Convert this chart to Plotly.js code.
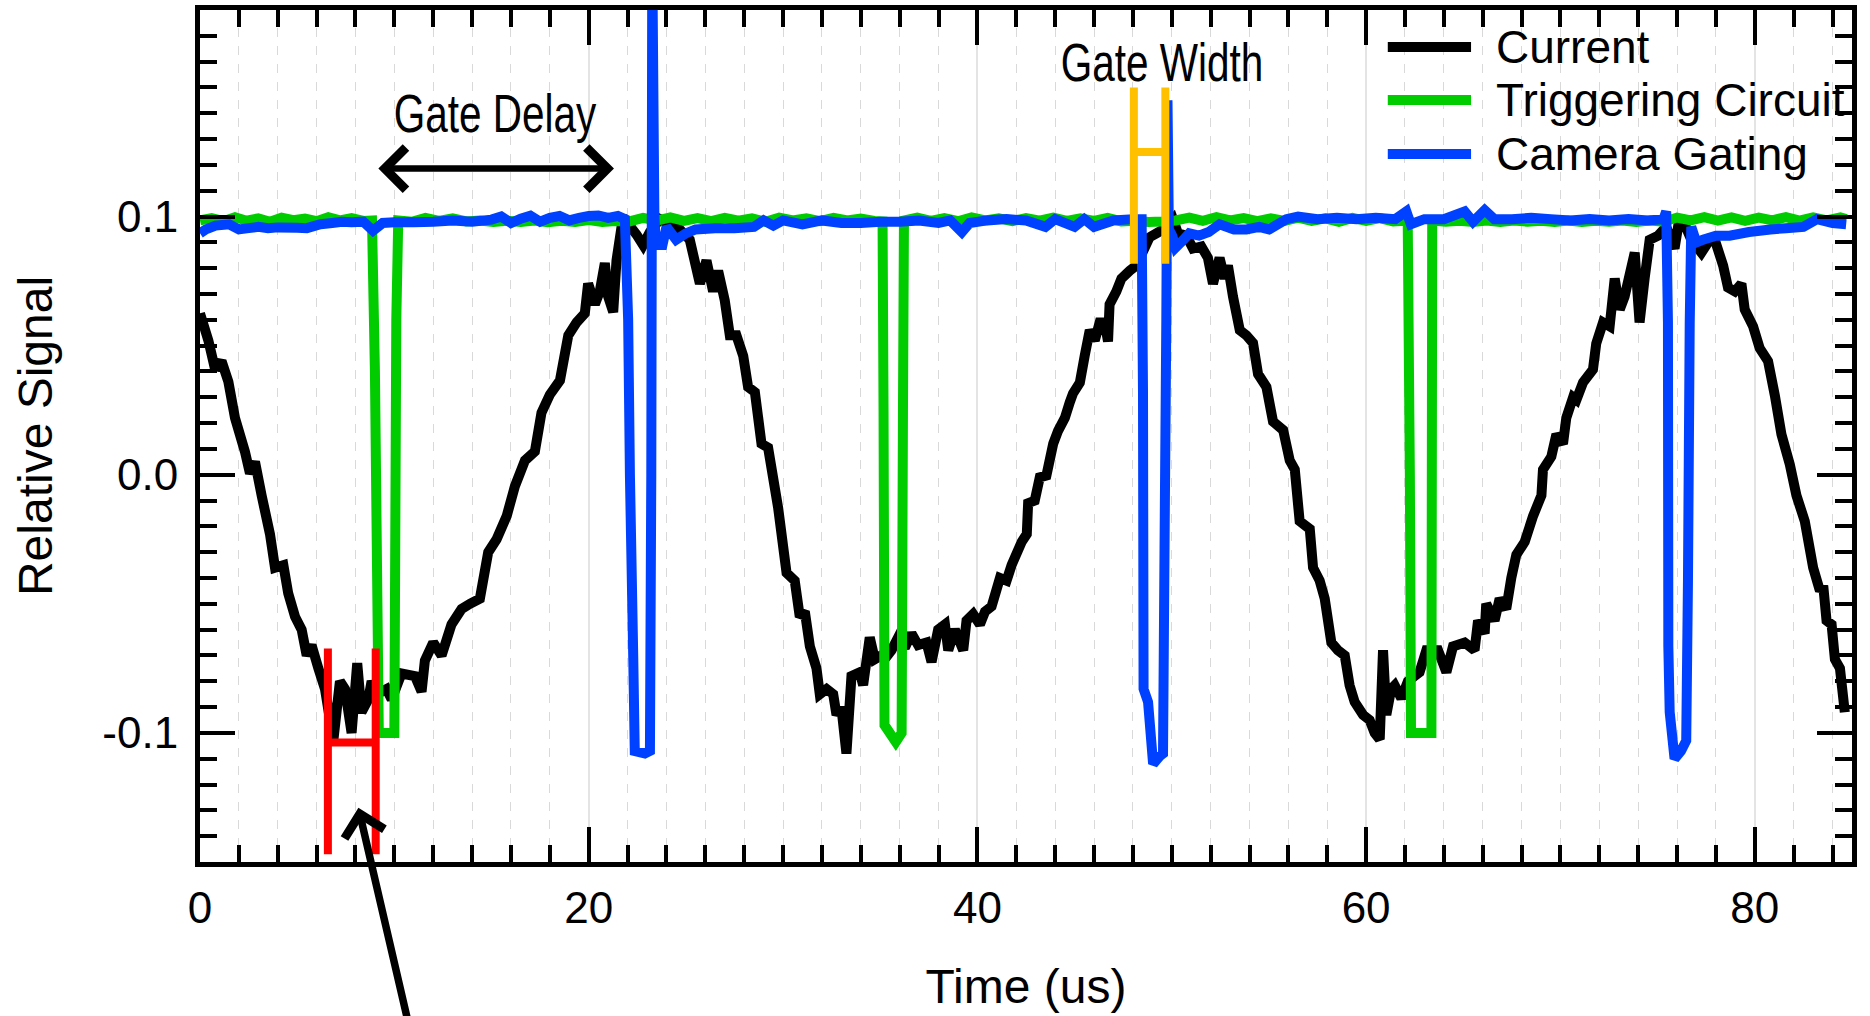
<!DOCTYPE html>
<html>
<head>
<meta charset="utf-8">
<script src="https://cdn.plot.ly/plotly-3.0.1.min.js"></script>
<style>
html,body{margin:0;padding:0;background:#ffffff;}
#chart{width:1870px;height:1016px;}
</style>
</head>
<body>
<div id="chart"></div>
<script>
// ---------------- data ----------------
const SERIES_NAMES = ['Current', 'Triggering Circuit', 'Camera Gating'];

// Current [time (us), relative signal]
const CURRENT_POINTS = [
[0,0.0625],[0.43,0.052],[0.77,0.041],[1.11,0.044],[1.46,0.036],[1.80,0.022],[2.31,0.009],[2.57,0.0005],
[2.83,0.005],[3.17,-0.008],[3.60,-0.023],[3.86,-0.036],[4.29,-0.035],[4.54,-0.046],[4.89,-0.055],[5.23,-0.060],
[5.49,-0.070],[5.74,-0.066],[6.09,-0.075],[6.43,-0.083],[6.86,-0.103],[7.20,-0.080],[7.46,-0.083],[7.80,-0.100],
[8.09,-0.073],[8.31,-0.092],[8.66,-0.087],[8.83,-0.080],[9.09,-0.085],[9.60,-0.083],[9.86,-0.087],[10.37,-0.077],
[11.06,-0.078],[11.40,-0.084],[11.57,-0.072],[12.00,-0.065],[12.43,-0.070],[12.94,-0.058],[13.46,-0.052],[13.89,-0.050],
[14.40,-0.048],[14.83,-0.030],[15.26,-0.025],[15.78,-0.016],[16.20,-0.0045],[16.72,0.0055],[17.23,0.009],[17.57,0.024],
[18.00,0.031],[18.52,0.0365],[18.95,0.054],[19.38,0.059],[19.80,0.0625],[19.97,0.074],[20.32,0.066],[20.57,0.071],
[20.83,0.082],[21.00,0.069],[21.26,0.063],[21.43,0.083],[21.69,0.096],[21.94,0.098],[22.46,0.093],[22.80,0.089],
[23.15,0.094],[23.66,0.099],[24.17,0.097],[24.69,0.095],[25.20,0.091],[25.72,0.074],[26.06,0.083],[26.40,0.071],
[26.66,0.079],[27.00,0.0675],[27.26,0.054],[27.60,0.054],[27.95,0.046],[28.20,0.034],[28.55,0.032],[28.89,0.012],
[29.23,0.0105],[29.75,-0.013],[30.18,-0.038],[30.60,-0.041],[30.86,-0.055],[31.12,-0.053],[31.38,-0.0665],[31.72,-0.075],
[31.89,-0.085],[32.24,-0.083],[32.58,-0.085],[32.75,-0.093],[33.00,-0.090],[33.26,-0.108],[33.52,-0.078],[33.95,-0.0765],
[34.12,-0.0815],[34.46,-0.063],[34.72,-0.0715],[35.06,-0.070],[35.32,-0.0705],[35.58,-0.068],[35.92,-0.063],[36.27,-0.067],
[36.61,-0.0615],[36.95,-0.066],[37.38,-0.065],[37.64,-0.0725],[37.98,-0.060],[38.33,-0.058],[38.50,-0.068],[38.84,-0.060],
[39.27,-0.068],[39.44,-0.0565],[39.78,-0.054],[40.13,-0.058],[40.39,-0.053],[40.73,-0.051],[41.16,-0.040],[41.50,-0.041],
[41.76,-0.035],[42.28,-0.026],[42.54,-0.023],[42.61,-0.011],[42.95,-0.010],[43.21,-0.001],[43.55,-0.0003],[43.90,0.012],
[44.15,0.017],[44.50,0.022],[44.75,0.028],[44.92,0.0315],[45.27,0.0357],[45.52,0.046],[45.78,0.056],[46.04,0.052],
[46.29,0.059],[46.55,0.059],[46.72,0.0516],[46.80,0.066],[47.15,0.071],[47.41,0.076],[47.83,0.079],[48.18,0.081],
[48.86,0.092],[49.21,0.0935],[49.55,0.095],[50.06,0.099],[50.32,0.0935],[50.75,0.0926],[51.09,0.0876],[51.52,0.0884],
[51.86,0.084],[52.12,0.074],[52.46,0.084],[52.72,0.076],[52.89,0.081],[53.15,0.069],[53.50,0.056],[53.84,0.054],
[54.18,0.051],[54.44,0.039],[54.87,0.034],[55.21,0.0206],[55.73,0.0173],[56.07,0.0055],[56.33,0.002],[56.58,-0.018],
[57.10,-0.021],[57.27,-0.036],[57.61,-0.041],[57.87,-0.048],[58.21,-0.065],[58.55,-0.068],[58.90,-0.070],[59.15,-0.0816],
[59.41,-0.088],[59.84,-0.093],[60.18,-0.095],[60.44,-0.100],[60.70,-0.1025],[60.87,-0.068],[61.04,-0.093],[61.29,-0.083],
[61.47,-0.0816],[61.81,-0.0866],[62.15,-0.080],[62.49,-0.078],[62.75,-0.0765],[63.10,-0.068],[63.70,-0.068],[64.13,-0.0765],
[64.47,-0.0665],[65.07,-0.065],[65.58,-0.068],[65.76,-0.0565],[66.10,-0.0615],[66.18,-0.050],[66.61,-0.0565],[66.87,-0.048],
[67.21,-0.052],[67.47,-0.040],[67.73,-0.031],[68.16,-0.026],[68.59,-0.016],[69.02,-0.008],[69.10,0.002],[69.53,0.007],
[69.79,0.0156],[70.13,0.012],[70.30,0.022],[70.65,0.030],[70.82,0.029],[71.16,0.0357],[71.67,0.0407],[71.84,0.0508],
[72.19,0.059],[72.53,0.0575],[72.79,0.076],[73.05,0.064],[73.30,0.069],[73.82,0.086],[74.07,0.059],[74.33,0.076],
[74.59,0.091],[75.02,0.0926],[75.44,0.096],[75.87,0.0876],[76.05,0.096],[76.39,0.097],[76.73,0.091],[77.25,0.086],
[77.68,0.091],[77.94,0.091],[78.37,0.081],[78.62,0.0725],[78.97,0.071],[79.31,0.074],[79.48,0.064],[79.91,0.0575],
[80.25,0.049],[80.68,0.044],[81.03,0.0307],[81.37,0.0156],[81.80,0.004],[82.14,-0.008],[82.57,-0.018],[83.00,-0.036],
[83.35,-0.045],[83.52,-0.043],[83.69,-0.0565],[83.95,-0.058],[84.12,-0.0715],[84.38,-0.075],[84.63,-0.092]
];

// Triggering Circuit [time (us), relative signal]
const TRIGGER_POINTS = [
[0,0.0985],[0.6,0.0994],[1.2,0.0982],[1.8,0.0997],[2.4,0.0984],[3.0,0.0993],[3.6,0.0980],[4.2,0.0996],
[4.8,0.0986],[5.4,0.0992],[6.0,0.0982],[6.6,0.0997],[7.2,0.0985],[7.8,0.0994],[8.4,0.0983],[8.85,0.0985],
[9.0,0.040],[9.2,-0.100],[10.0,-0.100],[10.1,0.060],[10.2,0.0985],[10.9,0.0980],[11.6,0.0995],[12.3,0.0983],
[13.0,0.0993],[13.7,0.0981],[14.4,0.0985],[15.1,0.0979],[15.8,0.0984],[16.5,0.0979],[17.2,0.0985],[17.9,0.0978],
[18.6,0.0984],[19.3,0.0979],[20.0,0.0986],[20.7,0.0979],[21.4,0.0983],[22.1,0.0981],[22.8,0.0995],[23.5,0.0984],
[24.2,0.0997],[24.9,0.0983],[25.6,0.0994],[26.3,0.0982],[27.0,0.0995],[27.7,0.0984],[28.4,0.0993],[29.1,0.0980],
[29.8,0.0996],[30.5,0.0985],[31.2,0.0993],[31.9,0.0982],[32.6,0.0995],[33.3,0.0985],[34.0,0.0992],[34.7,0.0983],
[35.12,0.0981],[35.17,0.025],[35.22,-0.097],[35.80,-0.1035],[36.10,-0.100],[36.17,0.025],[36.22,0.0985],[36.9,0.0996],
[37.6,0.0983],[38.3,0.0994],[39.0,0.0982],[39.7,0.0997],[40.4,0.0985],[41.1,0.0993],[41.8,0.0982],[42.5,0.0994],
[43.2,0.0984],[43.9,0.0996],[44.6,0.0983],[45.3,0.0993],[46.0,0.0983],[46.7,0.0995],[47.4,0.0981],[48.1,0.0984],
[48.8,0.0979],[49.5,0.0981],[50.2,0.0985],[50.9,0.0996],[51.6,0.0983],[52.3,0.0998],[53.0,0.0985],[53.7,0.0994],
[54.4,0.0982],[55.1,0.0993],[55.8,0.0983],[56.5,0.0996],[57.2,0.0983],[57.9,0.0993],[58.6,0.0980],[59.3,0.0995],
[60.0,0.0983],[60.7,0.0994],[61.4,0.0981],[62.14,0.0985],[62.25,0.000],[62.31,-0.100],[63.36,-0.100],[63.40,0.0985],
[64.1,0.0980],[64.8,0.0984],[65.5,0.0979],[66.2,0.0985],[66.9,0.0979],[67.6,0.0985],[68.3,0.0980],[69.0,0.0984],
[69.7,0.0979],[70.4,0.0985],[71.1,0.0979],[71.8,0.0984],[72.5,0.0980],[73.2,0.0985],[73.9,0.0979],[74.6,0.0985],
[75.3,0.0980],[76.0,0.0996],[76.7,0.0985],[77.4,0.0998],[78.1,0.0984],[78.8,0.0997],[79.5,0.0983],[80.2,0.0996],
[80.9,0.0985],[81.6,0.0998],[82.3,0.0984],[83.0,0.0997],[83.7,0.0985],[84.4,0.0997],[84.7,0.0990]
];

// Camera Gating [time (us), relative signal]
const GATING_POINTS = [
[0,0.0935],[0.3,0.095],[0.8,0.0965],[1.5,0.097],[2.0,0.095],[2.5,0.0955],[3.0,0.096],[3.5,0.0955],
[4.0,0.0958],[5.0,0.0957],[5.5,0.0955],[6.2,0.097],[6.8,0.0975],[7.3,0.098],[7.8,0.0978],[8.4,0.098],
[8.9,0.0945],[9.4,0.0975],[10.0,0.0978],[11.0,0.0978],[12.0,0.098],[13.0,0.0985],[14.0,0.098],[15.0,0.0988],
[15.5,0.1],[16.0,0.0975],[16.5,0.0992],[17.0,0.1003],[17.5,0.098],[18.0,0.0995],[18.5,0.1002],[19.0,0.0985],
[19.5,0.0995],[20.0,0.1002],[20.5,0.1004],[21.0,0.0995],[21.5,0.1002],[21.86,0.099],[22.03,0.060],[22.12,0.000],
[22.29,-0.070],[22.37,-0.107],[22.89,-0.108],[23.15,-0.107],[23.22,0.000],[23.27,0.200],[23.38,0.100],[23.45,0.089],
[23.6,0.093],[23.75,0.0875],[24.0,0.096],[24.5,0.091],[25.0,0.0935],[25.5,0.095],[26.5,0.0955],[27.5,0.0955],
[28.5,0.096],[29.0,0.0985],[29.5,0.0965],[30.0,0.0985],[31.0,0.097],[32.0,0.0985],[33.0,0.0975],[34.0,0.0975],
[35.0,0.098],[36.0,0.098],[37.0,0.0985],[38.0,0.0975],[38.6,0.0985],[39.2,0.094],[39.6,0.0975],[40.5,0.0985],
[41.5,0.099],[42.5,0.0985],[43.5,0.096],[44.0,0.099],[45.0,0.096],[45.5,0.099],[46.0,0.096],[47.0,0.0985],
[48.0,0.099],[48.45,0.099],[48.52,0.032],[48.55,-0.083],[48.78,-0.088],[49.04,-0.112],[49.38,-0.109],[49.55,-0.108],
[49.64,-0.016],[49.72,0.060],[49.78,0.145],[49.85,0.095],[50.02,0.0926],[50.2,0.088],[50.6,0.091],[50.9,0.0935],
[51.4,0.0926],[51.9,0.094],[52.46,0.097],[53.2,0.095],[53.84,0.095],[54.5,0.096],[55.0,0.095],[55.9,0.099],
[56.5,0.100],[57.5,0.099],[58.5,0.0995],[59.5,0.099],[60.5,0.0995],[61.5,0.099],[62.07,0.102],[62.3,0.097],
[63.0,0.099],[64.0,0.099],[65.07,0.102],[65.5,0.098],[66.1,0.1025],[66.6,0.099],[67.5,0.099],[68.5,0.0995],
[69.5,0.099],[70.5,0.0985],[71.5,0.099],[72.5,0.0985],[73.5,0.099],[74.5,0.0985],[75.3,0.099],[75.44,0.102],
[75.53,0.059],[75.55,-0.0665],[75.62,-0.092],[75.87,-0.110],[76.2,-0.107],[76.47,-0.103],[76.56,-0.041],[76.65,0.059],
[76.73,0.096],[76.99,0.090],[77.33,0.091],[78.0,0.0926],[78.7,0.0926],[79.7,0.094],[80.8,0.095],[81.6,0.0955],
[82.5,0.096],[83.2,0.099],[84.0,0.0975],[84.7,0.097]
];

const X_RANGE = [0, 85];
const Y_RANGE = [-0.15, 0.18];
const X_TICK_VALUES = [0, 20, 40, 60, 80];
const X_TICK_LABELS = ['0', '20', '40', '60', '80'];
const Y_TICK_VALUES = [-0.1, 0, 0.1];
const Y_TICK_LABELS = ['-0.1', '0.0', '0.1'];
const X_AXIS_TITLE = 'Time (us)';
const Y_AXIS_TITLE = 'Relative Signal';
const NOTE_DELAY = 'Gate Delay';
const NOTE_WIDTH = 'Gate Width';

// ---------------- styles ----------------
const COLORS = ['#000000', '#00cc00', '#0040ff'];
const RED = '#ff0000';
const GOLD = '#ffc000';
const FONT = 'Liberation Sans, Arial, Helvetica, sans-serif';

const pointSets = [CURRENT_POINTS, TRIGGER_POINTS, GATING_POINTS];
const traces = pointSets.map((pts, i) => ({
  type: 'scatter',
  mode: 'lines',
  name: SERIES_NAMES[i],
  x: pts.map(p => p[0]),
  y: pts.map(p => p[1]),
  line: {color: COLORS[i], width: 10, simplify: false},
  showlegend: false,
  hoverinfo: 'x+y+name'
}));

// annotation anchor positions (in axis units)
const DELAY_TEXT_POS = [15.2, 0.140];
const DELAY_ARROW = {from: 9.1, to: 21.3, y: 0.1186};
const WIDTH_TEXT_POS = [49.5, 0.1597];
const RED_H = {x0: 6.58, x1: 9.04, top: -0.0673, bottom: -0.147, bar: -0.1037};
const GOLD_H = {x0: 48.05, x1: 49.67, top: 0.150, bottom: 0.0817, bar: 0.125};
const POINTER = {headX: 8.15, headY: -0.129, tailX: 10.8, tailY: -0.215};

// legend (paper units)
const LEG = {x0: 0.719, x1: 0.7694, tx: 0.7833, rows: [0.9566, 0.8944, 0.831]};

const shapes = [];
shapes.push({type: 'rect', xref: 'paper', yref: 'paper', x0: 0.712, x1: 1, y0: 0.80, y1: 1,
  fillcolor: '#ffffff', line: {width: 0}, layer: 'between'});
SERIES_NAMES.forEach((n, i) => {
  shapes.push({type: 'line', xref: 'paper', yref: 'paper', x0: LEG.x0, x1: LEG.x1,
    y0: LEG.rows[i], y1: LEG.rows[i], line: {color: COLORS[i], width: 10}, layer: 'above'});
});
function hShape(h, color) {
  const ln = {color: color, width: 8};
  return [
    {type: 'line', xref: 'x', yref: 'y', x0: h.x0, x1: h.x0, y0: h.bottom, y1: h.top, line: ln, layer: 'above'},
    {type: 'line', xref: 'x', yref: 'y', x0: h.x1, x1: h.x1, y0: h.bottom, y1: h.top, line: ln, layer: 'above'},
    {type: 'line', xref: 'x', yref: 'y', x0: h.x0, x1: h.x1, y0: h.bar, y1: h.bar, line: ln, layer: 'above'}
  ];
}
shapes.push(...hShape(RED_H, RED), ...hShape(GOLD_H, GOLD));

const annotations = [];
SERIES_NAMES.forEach((n, i) => {
  annotations.push({xref: 'paper', yref: 'paper', x: LEG.tx, y: LEG.rows[i], xanchor: 'left', yanchor: 'middle',
    text: n, showarrow: false, font: {family: FONT, size: 46, color: '#000'}});
});
annotations.push({xref: 'x', yref: 'y', x: DELAY_TEXT_POS[0], y: DELAY_TEXT_POS[1], text: NOTE_DELAY,
  showarrow: false, font: {family: FONT, size: 54, color: '#000'}});
annotations.push({xref: 'x', yref: 'y', x: WIDTH_TEXT_POS[0], y: WIDTH_TEXT_POS[1], text: NOTE_WIDTH,
  showarrow: false, font: {family: FONT, size: 54, color: '#000'}});
annotations.push({xref: 'x', yref: 'y', axref: 'x', ayref: 'y',
  x: DELAY_ARROW.to, y: DELAY_ARROW.y, ax: DELAY_ARROW.from, ay: DELAY_ARROW.y,
  text: ' ', font: {size: 1}, showarrow: true, arrowside: 'end+start', arrowhead: 4, startarrowhead: 4,
  arrowsize: 1.25, startarrowsize: 1.25, arrowwidth: 6.5, arrowcolor: '#000', standoff: 0, startstandoff: 0});
annotations.push({xref: 'x', yref: 'y', axref: 'x', ayref: 'y',
  x: POINTER.headX, y: POINTER.headY, ax: POINTER.tailX, ay: POINTER.tailY,
  text: ' ', font: {size: 1}, showarrow: true, arrowhead: 4, arrowsize: 1.05, arrowwidth: 7.5,
  arrowcolor: '#000', standoff: 0});

const tickFont = {family: FONT, size: 44, color: '#000'};
const layout = {
  width: 1870, height: 1016,
  margin: {l: 200, r: 18, t: 10, b: 154},
  paper_bgcolor: '#ffffff', plot_bgcolor: '#ffffff',
  showlegend: false,
  font: {family: FONT, color: '#000'},
  xaxis: {
    range: X_RANGE, tickmode: 'array', tickvals: X_TICK_VALUES, ticktext: X_TICK_LABELS,
    ticks: 'inside', ticklen: 35, tickwidth: 4, tickcolor: '#000',
    showline: true, linewidth: 5, linecolor: '#000', mirror: 'ticks',
    showgrid: true, gridcolor: '#e4e4e4', gridwidth: 2, zeroline: false,
    tickfont: tickFont, ticklabelstandoff: 3,
    minor: {tickmode: 'linear', tick0: 0, dtick: 2, ticks: 'inside', ticklen: 17, tickwidth: 4, tickcolor: '#000',
      showgrid: true, gridcolor: '#d9d9d9', gridwidth: 1, griddash: 'dash'},
    title: {text: X_AXIS_TITLE, font: {family: FONT, size: 48, color: '#000'}, standoff: 40}
  },
  xaxis2: {
    overlaying: 'x', anchor: 'y', side: 'bottom', range: X_RANGE,
    tickmode: 'linear', tick0: 0, dtick: 10, ticks: 'inside', ticklen: 26, tickwidth: 4, tickcolor: '#000',
    showticklabels: false, showgrid: false, zeroline: false, showline: true, linewidth: 5, linecolor: '#000', mirror: 'ticks'
  },
  yaxis: {
    range: Y_RANGE, tickmode: 'array', tickvals: Y_TICK_VALUES, ticktext: Y_TICK_LABELS,
    ticks: 'inside', ticklen: 35, tickwidth: 4, tickcolor: '#000',
    showline: true, linewidth: 5, linecolor: '#000', mirror: 'ticks',
    showgrid: false, zeroline: false, tickfont: tickFont, ticklabelstandoff: 8,
    minor: {tickmode: 'linear', tick0: 0, dtick: 0.01, ticks: 'inside', ticklen: 17, tickwidth: 4, tickcolor: '#000', showgrid: false},
    title: {text: Y_AXIS_TITLE, font: {family: FONT, size: 48, color: '#000'}, standoff: 36}
  },
  yaxis2: {
    overlaying: 'y', anchor: 'x', side: 'left', range: Y_RANGE,
    tickmode: 'linear', tick0: 0, dtick: 0.05, ticks: 'inside', ticklen: 26, tickwidth: 4, tickcolor: '#000',
    showticklabels: false, showgrid: false, zeroline: false, showline: true, linewidth: 5, linecolor: '#000', mirror: 'ticks'
  },
  shapes: shapes,
  annotations: annotations
};

Plotly.newPlot('chart', traces, layout, {displayModeBar: false, staticPlot: true}).then(() => {
  // condensed look of the two call-out labels
  document.querySelectorAll('#chart .annotation-text').forEach(el => {
    const t = el.textContent;
    if (t === NOTE_DELAY || t === NOTE_WIDTH) {
      el.style.transformBox = 'fill-box';
      el.style.transformOrigin = 'center';
      el.style.transform = 'scaleX(0.75)';
    }
  });
});
</script>
</body>
</html>
